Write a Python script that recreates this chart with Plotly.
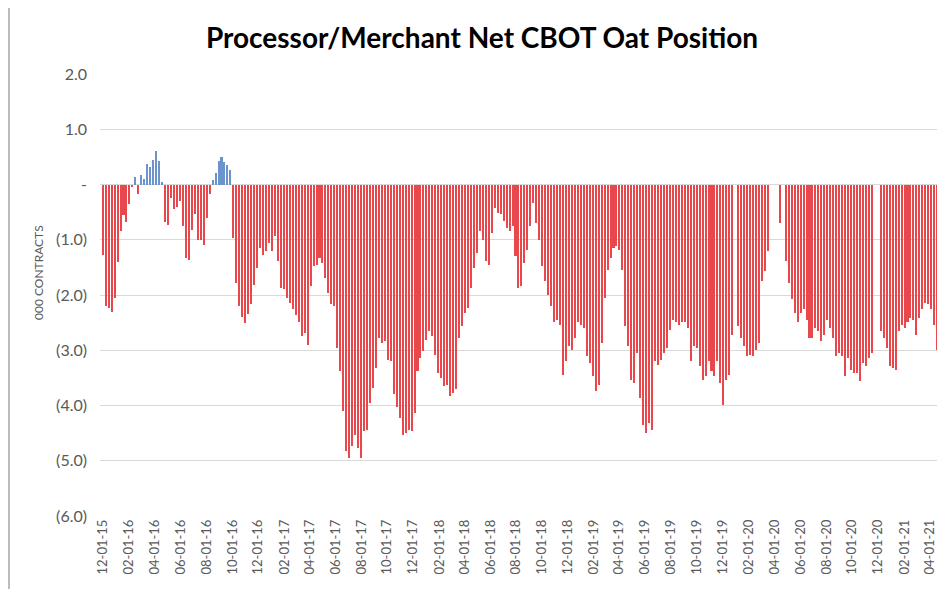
import pandas as pd
import plotly.graph_objects as go

# Weekly report dates (Tuesdays) starting 12-01-15
start_date = "2015-12-01"
n_weeks = 282

# Net position, thousands of contracts (None = no report)
net_position = [
    -1.27, -2.2, -2.23, -2.3, -2.05, -1.4, -0.85, -0.55, -0.67, -0.36,
    -0.05, 0.14, -0.18, 0.18, 0.1, 0.38, 0.31, 0.45, 0.61, 0.42,
    0.05, -0.67, -0.73, -0.24, -0.45, -0.4, -0.3, -0.75, -1.33, -1.36,
    -0.82, -0.54, -1.0, -1.0, -1.09, -0.6, -0.18, 0.09, 0.2, 0.42,
    0.5, 0.4, 0.36, 0.27, -0.96, -1.78, -2.2, -2.39, -2.5, -2.35,
    -2.17, -1.81, -1.51, -1.15, -1.27, -1.21, -1.06, -1.21, -0.94, -1.39,
    -1.87, -1.9, -2.05, -2.14, -2.26, -2.36, -2.48, -2.75, -2.69, -2.9,
    -1.84, -1.48, -1.45, -1.33, -1.42, -1.69, -1.96, -2.17, -2.2, -2.96,
    -3.38, -4.1, -4.83, -4.95, -4.74, -4.53, -4.77, -4.95, -4.47, -4.44,
    -3.95, -3.68, -3.32, -2.78, -2.87, -2.84, -3.17, -3.2, -3.8, -4.02,
    -4.23, -4.53, -4.5, -4.44, -4.47, -4.14, -3.38, -3.14, -3.02, -2.81,
    -2.66, -2.75, -3.08, -3.41, -3.5, -3.65, -3.62, -3.83, -3.77, -3.71,
    -2.78, -2.57, -2.32, -2.23, -1.87, -1.51, -1.24, -0.85, -1.0, -1.39,
    -1.45, -0.88, -0.42, -0.51, -0.54, -0.66, -0.78, -0.85, -0.76, -1.3,
    -1.87, -1.84, -1.42, -1.18, -0.75, -0.33, -0.69, -1.0, -1.48, -1.75,
    -2.0, -2.2, -2.48, -2.45, -2.54, -3.44, -3.2, -2.93, -2.99, -2.78,
    -2.48, -2.54, -2.6, -3.11, -3.23, -3.47, -3.74, -3.62, -2.87, -2.05,
    -1.54, -1.33, -1.15, -1.12, -1.18, -1.54, -2.57, -2.93, -3.53, -3.59,
    -3.05, -3.86, -4.35, -4.5, -4.32, -4.44, -3.2, -3.26, -3.17, -3.05,
    -2.96, -2.63, -2.45, -2.48, -2.54, -2.48, -2.48, -2.6, -3.2, -2.93,
    -2.96, -3.29, -3.53, -3.47, -3.2, -3.38, -3.47, -3.2, -3.59, -3.99,
    -3.53, -3.44, -2.72, None, -2.57, -2.78, -2.93, -3.11, -3.08, -3.11,
    -2.99, -2.87, -1.75, -1.57, -1.21, None, None, None, -0.69, None,
    -1.39, -1.78, -2.08, -2.32, -2.48, -2.32, -2.26, -2.45, -2.78, -2.78,
    -2.6, -2.66, -2.84, -2.72, -2.45, -2.6, -2.78, -3.11, -3.05, -3.11,
    -3.47, -3.14, -3.35, -3.41, -3.41, -3.56, -3.23, -3.29, -3.14, -3.05,
    None, None, -2.66, -2.78, -2.96, -3.29, -3.32, -3.35, -2.66, -2.54,
    -2.6, -2.48, -2.42, -2.45, -2.72, -2.42, -2.26, -2.14, -2.17, -2.26,
    -2.54, -2.99,
]

y_tick_vals = [2, 1, 0, -1, -2, -3, -4, -5, -6]
y_tick_text = ["2.0", "1.0", "-", "(1.0)", "(2.0)", "(3.0)", "(4.0)", "(5.0)", "(6.0)"]

dates = pd.date_range(start_date, periods=n_weeks, freq="7D")
RED = "#E8474B"
BLUE = "#6B93CC"
colors = [BLUE if (v is not None and v > 0) else RED for v in net_position]

# The page body has an 8px margin; margins below compensate so the plot
# area lands at x 100..940, y 74..516 in the browser window.
ML, MT = 92, 66
PW, PH = 840, 442
FW, FH = 945, 589

fig = go.Figure()
fig.add_trace(go.Bar(
    x=dates, y=net_position,
    marker=dict(color=colors, line=dict(width=0)),
    width=3.6 * 86400000,
    hoverinfo="x+y",
))

fig.update_layout(
    width=FW, height=FH,
    margin=dict(l=ML, r=FW - ML - PW, t=MT, b=FH - MT - PH),
    paper_bgcolor="white", plot_bgcolor="white",
    showlegend=False,
    title=dict(text="<b>Processor/Merchant Net CBOT Oat Position</b>",
               x=(482 - 8 - ML) / PW, xanchor="center",
               y=1 - (38 - 8) / FH, yanchor="middle",
               xref="paper", yref="container",
               font=dict(family="Lato, Carlito, sans-serif", size=28, color="#000000")),
    font=dict(family="Lato, Carlito, sans-serif", color="#595959"),
    bargap=0,
)

fig.update_xaxes(
    type="date",
    range=["2015-11-24", "2021-04-26"],
    tick0="2015-12-01", dtick="M2", tickformat="%m-%d-%y",
    tickangle=-90, tickfont=dict(size=13, color="#595959"),
    showgrid=False, zeroline=False, showline=False, ticks="",
)

fig.update_yaxes(
    range=[-6, 2],
    tickvals=y_tick_vals, ticktext=y_tick_text,
    tickfont=dict(size=16, color="#595959"),
    showgrid=True, gridcolor="#D9D9D9", gridwidth=1,
    zeroline=False, showline=False, ticks="",
    ticklabelstandoff=12,
)

fig.add_annotation(
    text="000 CONTRACTS", textangle=-90,
    xref="paper", yref="paper",
    x=(38 - 8 - ML) / PW, y=(516 - 273) / PH,
    xanchor="center", yanchor="middle", showarrow=False,
    font=dict(family="Lato, Carlito, sans-serif", size=12, color="#595959"),
)

# chart frame (left edge)
fig.add_shape(type="line", xref="paper", yref="paper",
              x0=(1 - ML) / PW, x1=(1 - ML) / PW,
              y0=-(FH - MT - PH) / PH, y1=(PH + MT) / PH,
              line=dict(color="#A6A6A6", width=1.5))

fig.write_html("out.html")
